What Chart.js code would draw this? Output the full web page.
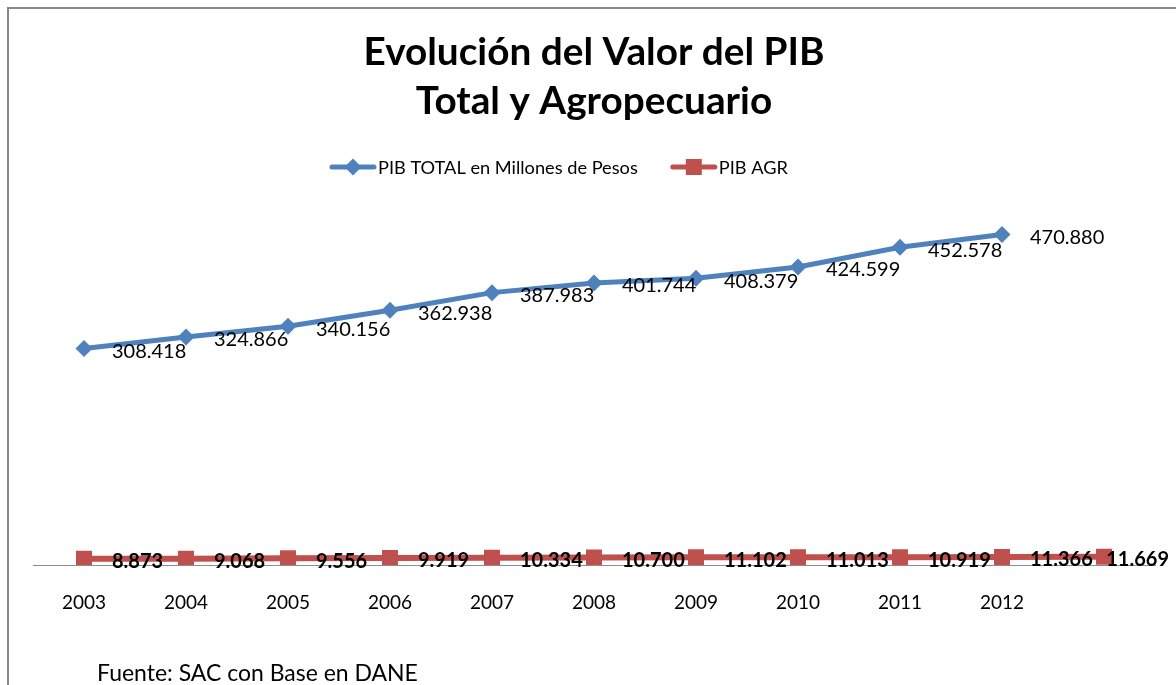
<!DOCTYPE html>
<html>
<head>
  <meta charset="utf-8">
  <title>Evolución del Valor del PIB</title>
  <script src="https://cdn.jsdelivr.net/npm/chart.js"></script>
  <style>
    body { margin: 0; background: #fff; }
    #box { width: 1176px; height: 685px; }
  </style>
</head>
<body>
  <div id="box"><canvas id="myChart" width="1176" height="685"></canvas></div>
  <script>
    // datos
    var anios = ['2003', '2004', '2005', '2006', '2007', '2008', '2009', '2010', '2011', '2012', ''];
    var pibTotal = [308.418, 324.866, 340.156, 362.938, 387.983, 401.744, 408.379, 424.599, 452.578, 470.880, null];
    var pibAgr = [8.873, 9.068, 9.556, 9.919, 10.334, 10.700, 11.102, 11.013, 10.919, 11.366, 11.669];

    var titulo = ['Evolución del Valor del PIB', 'Total y Agropecuario'];
    var fuente = 'Fuente: SAC con Base en DANE';
    var FAM = 'Lato, "Open Sans", sans-serif';

    // formato 308.418 (punto como separador de miles)
    function fmt(v) {
      return v.toFixed(3);
    }

    // ajusta el tamaño de letra para ocupar el ancho del original
    function fitFont(ctx, txt, weight, ancho) {
      ctx.font = weight + ' 20px ' + FAM;
      var w = ctx.measureText(txt).width;
      return 20 * ancho / w;
    }

    var extras = {
      id: 'extras',
      beforeDraw: function(chart) {
        var ctx = chart.ctx;
        ctx.save();
        ctx.fillStyle = '#fff';
        ctx.fillRect(0, 0, chart.width, chart.height);
        ctx.restore();
      },
      afterDatasetsDraw: function(chart) {
        var ctx = chart.ctx;
        ctx.save();
        ctx.textBaseline = 'middle';
        ctx.textAlign = 'left';
        ctx.fillStyle = '#000';
        chart.data.datasets.forEach(function(ds, i) {
          var meta = chart.getDatasetMeta(i);
          ctx.font = (i == 1 ? 'bold ' : '') + '20px ' + FAM;
          meta.data.forEach(function(p, j) {
            if (ds.data[j] == null) return;
            var txt = fmt(ds.data[j]);
            // que no se salga por la derecha
            var x = Math.min(p.x + 28, 1169 - ctx.measureText(txt).width);
            ctx.fillText(txt, x, p.y + 3);
          });
        });
        ctx.restore();
      },
      afterDraw: function(chart) {
        var ctx = chart.ctx;
        ctx.save();
        // marco
        ctx.strokeStyle = '#878787';
        ctx.lineWidth = 2;
        ctx.strokeRect(8, 8, 1200, 700);

        // título
        ctx.fillStyle = '#000';
        ctx.textAlign = 'center';
        ctx.textBaseline = 'alphabetic';
        var s1 = fitFont(ctx, titulo[0], 'bold', 461);
        ctx.font = 'bold ' + s1 + 'px ' + FAM;
        ctx.fillText(titulo[0], 594, 65);
        ctx.fillText(titulo[1], 594, 114);

        // leyenda
        var sl = fitFont(ctx, 'PIB TOTAL en Millones de Pesos', 'normal', 260);
        ctx.font = sl + 'px ' + FAM;
        ctx.textAlign = 'left';
        ctx.textBaseline = 'middle';
        var x = 332, y = 167;
        chart.data.datasets.forEach(function(ds, i) {
          ctx.strokeStyle = ds.borderColor;
          ctx.lineWidth = 5;
          ctx.lineCap = 'round';
          ctx.beginPath();
          ctx.moveTo(x, y);
          ctx.lineTo(x + 42, y);
          ctx.stroke();
          ctx.fillStyle = ds.pointBackgroundColor;
          ctx.beginPath();
          if (ds.pointStyle == 'rectRot') {
            ctx.moveTo(x + 21, y - 8.5);
            ctx.lineTo(x + 29.5, y);
            ctx.lineTo(x + 21, y + 8.5);
            ctx.lineTo(x + 12.5, y);
          } else {
            ctx.rect(x + 13, y - 8, 16, 16);
          }
          ctx.fill();
          ctx.fillStyle = '#000';
          ctx.fillText(ds.label, x + 46, y + 1);
          x = x + 46 + ctx.measureText(ds.label).width + 35;
        });

        // fuente
        var sf = fitFont(ctx, fuente, 'normal', 321);
        ctx.font = sf + 'px ' + FAM;
        ctx.fillText(fuente, 97, 674);
        ctx.restore();
      }
    };

    function graficar() {
      var ctx = document.getElementById('myChart').getContext('2d');
      new Chart(ctx, {
        type: 'line',
        data: {
          labels: anios,
          datasets: [{
            label: 'PIB TOTAL en Millones de Pesos',
            data: pibTotal,
            borderColor: '#4F81BD',
            backgroundColor: '#4F81BD',
            pointBackgroundColor: '#4F81BD',
            pointBorderColor: '#4F81BD',
            borderWidth: 5,
            pointStyle: 'rectRot',
            pointRadius: 8.5,
            pointBorderWidth: 0,
            tension: 0,
            fill: false
          }, {
            label: 'PIB AGR',
            data: pibAgr,
            borderColor: '#C0504D',
            backgroundColor: '#C0504D',
            pointBackgroundColor: '#C0504D',
            pointBorderColor: '#C0504D',
            borderWidth: 6,
            pointStyle: 'rect',
            pointRadius: 11.3,
            pointBorderWidth: 0,
            tension: 0,
            fill: false
          }]
        },
        options: {
          responsive: false,
          animation: false,
          layout: { padding: { top: 214, left: 33, right: 21, bottom: 60 } },
          plugins: {
            legend: { display: false },
            title: { display: false },
            tooltip: { enabled: false }
          },
          scales: {
            x: {
              offset: true,
              grid: { display: false, drawTicks: false },
              border: { display: true, color: '#8c8c8c', width: 1 },
              ticks: {
                color: '#000',
                padding: 26,
                maxRotation: 0,
                autoSkip: false,
                font: { family: FAM, size: 19 }
              },
              afterFit: function(s) { s.height = 60; }
            },
            y: {
              display: false,
              min: 0,
              max: 500
            }
          }
        },
        plugins: [extras]
      });
    }

    if (document.fonts && document.fonts.load) {
      Promise.all([
        document.fonts.load('20px Lato'),
        document.fonts.load('bold 20px Lato')
      ]).then(graficar, graficar);
    } else {
      graficar();
    }
  </script>
</body>
</html>
